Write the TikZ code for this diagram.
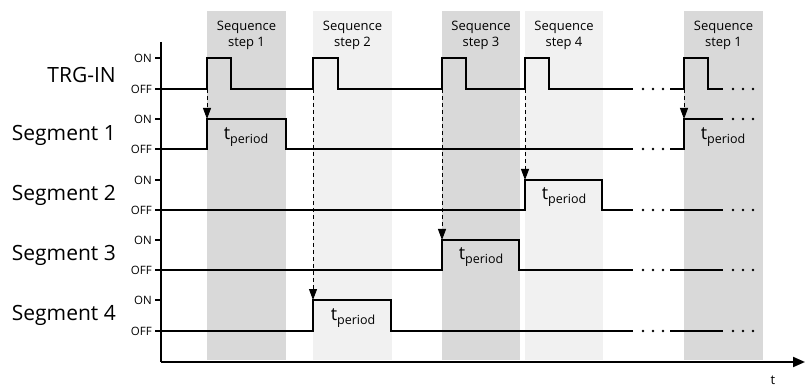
\documentclass[tikz,border=0pt]{standalone}
\usepackage{fontspec}
\setmainfont{Open Sans}
\usetikzlibrary{arrows.meta}
\definecolor{banddark}{HTML}{D9D9D9}
\definecolor{bandlight}{HTML}{F1F1F1}
\begin{document}
\begin{tikzpicture}[x=1pt,y=-1pt,
  sig/.style={line width=2.8pt, line join=miter},
  axisline/.style={line width=2pt},
  tickline/.style={line width=1.6pt},
  trigarrow/.style={line width=0.9pt, dash pattern=on 4pt off 3pt, -{Triangle[length=11pt,width=8pt]}},
  onoff/.style={anchor=east, inner sep=0pt, font=\fontsize{11.5}{12}\selectfont},
  rowlbl/.style={anchor=east, inner sep=0pt, font=\fontsize{21}{21}\selectfont},
  seqlbl/.style={align=center, inner sep=0pt, font=\fontsize{13}{16}\selectfont},
  tplbl/.style={inner sep=0pt, font=\fontsize{18}{18}\selectfont},
  dot/.style={fill=black}
]
\useasboundingbox (0,0) rectangle (805,387);
% bands
\fill[banddark]  (207,11) rectangle (286,360);
\fill[bandlight] (313,11) rectangle (392,360);
\fill[banddark]  (442,11) rectangle (520,360);
\fill[bandlight] (525,11) rectangle (603,360);
\fill[banddark]  (684,11) rectangle (763,360);
% sequence labels
\node[seqlbl] (sq1) at (246.5,35) {Sequence\\step 1};
\node[seqlbl] (sq2) at (352.5,35) {Sequence\\step 2};
\node[seqlbl] (sq3) at (481,35) {Sequence\\step 3};
\node[seqlbl] (sq4) at (564,35) {Sequence\\step 4};
\node[seqlbl] (sq5) at (723.5,35) {Sequence\\step 1};
% axes
\coordinate (ytop) at (161,42);
\coordinate (origin) at (161,362);
\coordinate (xend) at (805,362);
\draw[axisline] (ytop) -- (origin);
\draw[axisline, -{Triangle[length=12pt,width=10pt]}] (origin) -- (xend);
\node[inner sep=0pt, font=\fontsize{13}{13}\selectfont] (tlbl) at (773,380) {t};
% ticks and ON/OFF labels
\foreach \y/\t [count=\i] in {58/ON,89/OFF,119/ON,149/OFF,180/ON,210/OFF,240/ON,270/OFF,300/ON,331/OFF}{
  \draw[tickline] (155,\y) -- (161,\y);
  \node[onoff] (lv\i) at (152,\y+0.5) {\t};
}
% row labels
\node[rowlbl] (trg) at (116,75) {TRG-IN};
\node[rowlbl] (seg1) at (116,135) {Segment 1};
\node[rowlbl] (seg2) at (116,195) {Segment 2};
\node[rowlbl] (seg3) at (116,255) {Segment 3};
\node[rowlbl] (seg4) at (116,315) {Segment 4};
% signals
\draw[sig] (161,89) -- (207,89) -- (207,58) -- (231,58) -- (231,89) -- (313,89) -- (313,58) -- (338,58) -- (338,89) -- (442,89) -- (442,58) -- (466,58) -- (466,89) -- (525,89) -- (525,58) -- (549,58) -- (549,89) -- (633,89);
\draw[sig] (670,89) -- (684,89) -- (684,58) -- (708,58) -- (708,89) -- (723,89);
\draw[sig] (161,149) -- (207,149) -- (207,119) -- (286,119) -- (286,149) -- (633,149);
\draw[sig] (670,149) -- (684,149) -- (684,119) -- (723,119);
\draw[sig] (161,210) -- (525,210) -- (525,180) -- (602,180) -- (602,210) -- (633,210);
\draw[sig] (670,210) -- (723,210);
\draw[sig] (161,270) -- (442,270) -- (442,240) -- (519,240) -- (519,270) -- (633,270);
\draw[sig] (670,270) -- (723,270);
\draw[sig] (161,331) -- (313,331) -- (313,300) -- (391,300) -- (391,331) -- (633,331);
\draw[sig] (670,331) -- (723,331);
% continuation dots
\foreach \y in {89,149,210,270,331}{
  \foreach \x in {643,653,663}{\fill[dot] (\x,\y) circle (1.4pt);}
}
\foreach \y in {89,119,210,270,331}{
  \foreach \x in {733,743,753}{\fill[dot] (\x,\y) circle (1.4pt);}
}
% t_period labels
\node[tplbl] (tp1) at (246,137) {t\raisebox{-4pt}{\fontsize{12.5}{12.5}\selectfont period}};
\node[tplbl] (tp2) at (564,197) {t\raisebox{-4pt}{\fontsize{12.5}{12.5}\selectfont period}};
\node[tplbl] (tp3) at (481,257) {t\raisebox{-4pt}{\fontsize{12.5}{12.5}\selectfont period}};
\node[tplbl] (tp4) at (353,318) {t\raisebox{-4pt}{\fontsize{12.5}{12.5}\selectfont period}};
\node[tplbl] (tp5) at (723,137) {t\raisebox{-4pt}{\fontsize{12.5}{12.5}\selectfont period}};
% trigger arrows
\coordinate (tr1) at (207,89); \coordinate (s1on) at (207,119);
\coordinate (tr2) at (313,89); \coordinate (s4on) at (313,300);
\coordinate (tr3) at (442,89); \coordinate (s3on) at (442,240);
\coordinate (tr4) at (525,89); \coordinate (s2on) at (525,180);
\coordinate (tr5) at (684,89); \coordinate (s1bon) at (684,119);
\draw[trigarrow] (tr1) -- (s1on);
\draw[trigarrow] (tr2) -- (s4on);
\draw[trigarrow] (tr3) -- (s3on);
\draw[trigarrow] (tr4) -- (s2on);
\draw[trigarrow] (tr5) -- (s1bon);
\end{tikzpicture}
\end{document}
